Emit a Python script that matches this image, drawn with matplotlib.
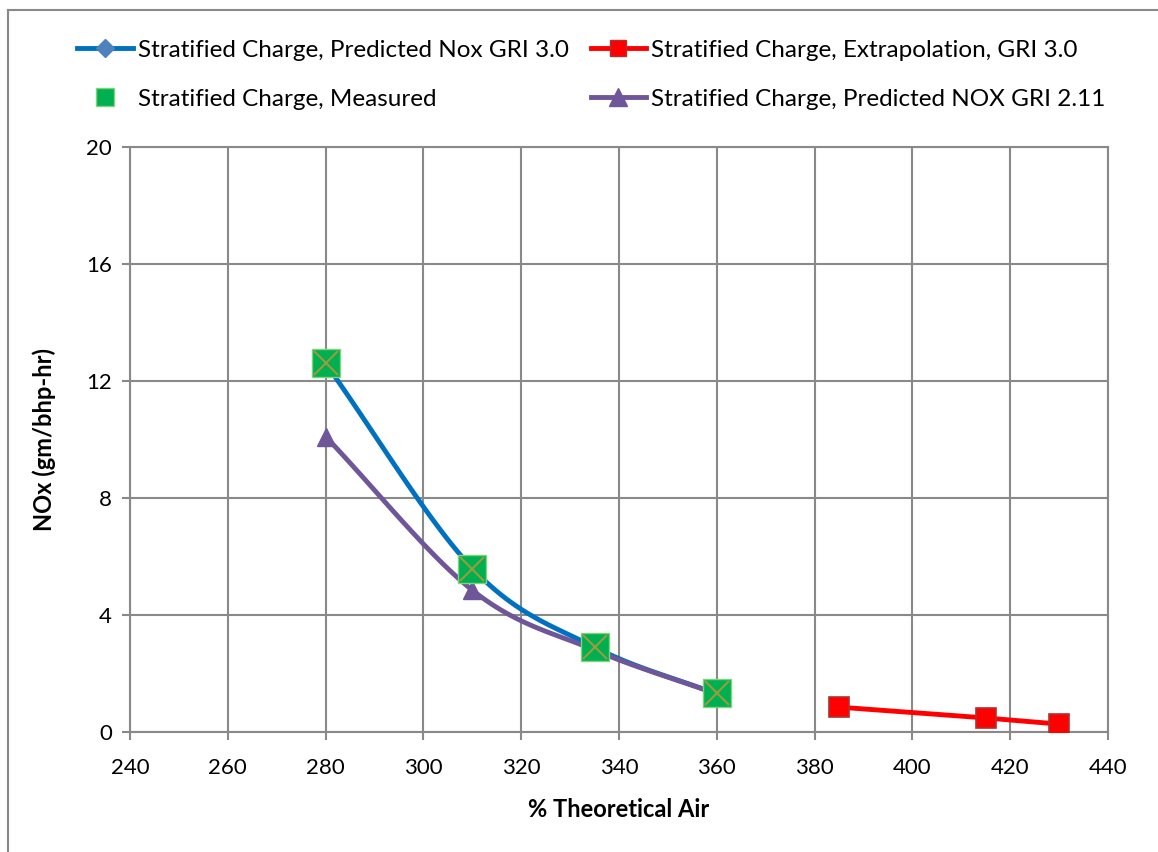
import numpy as np
import matplotlib
matplotlib.use('Agg')
from matplotlib import pyplot as plt
from matplotlib.lines import Line2D

plt.rcParams['font.family'] = ['Lato', 'DejaVu Sans']

# data
air_pred = [280, 310, 335, 360]
nox_gri30 = [12.6, 5.6, 2.9, 1.3]
nox_measured = [12.6, 5.57, 2.9, 1.33]
nox_gri211 = [10.1, 4.85, 2.8, 1.3]
air_extra = [385, 415, 430]
nox_extra = [0.85, 0.48, 0.27]

x_ticks = list(range(240, 441, 20))
y_ticks = [0, 4, 8, 12, 16, 20]


def smooth(x, y, n=40):
	# Catmull-Rom curve through the points, like Excel's smoothed line
	x = np.asarray(x, float)
	y = np.asarray(y, float)
	px = np.concatenate([[2 * x[0] - x[1]], x, [2 * x[-1] - x[-2]]])
	py = np.concatenate([[2 * y[0] - y[1]], y, [2 * y[-1] - y[-2]]])
	xs, ys = [], []
	t = np.linspace(0, 1, n)
	for i in range(1, len(px) - 2):
		for p, out in ((px, xs), (py, ys)):
			p0, p1, p2, p3 = p[i - 1], p[i], p[i + 1], p[i + 2]
			out.extend(0.5 * (2 * p1 + (-p0 + p2) * t + (2 * p0 - 5 * p1 + 4 * p2 - p3) * t ** 2
			                  + (-p0 + 3 * p1 - 3 * p2 + p3) * t ** 3))
	return xs, ys


blue = '#0070C0'
purple = '#6F5698'
green = '#00B050'
red = '#FF0000'
grid_col = '#898989'

fig = plt.figure(figsize=(11.58, 8.52), dpi=100)
ax = fig.add_axes([130 / 1158, 1 - 732 / 852, 978 / 1158, 585 / 852])

sx, sy = smooth(air_pred, nox_gri30)
ax.plot(sx, sy, color=blue, lw=3.5, zorder=3)
ax.plot(air_pred, nox_gri30, ls='none', marker='D', ms=9, color='#4F81BD', zorder=3)

sx, sy = smooth(air_pred, nox_gri211)
ax.plot(sx, sy, color=purple, lw=3.5, zorder=3)
ax.plot(air_pred, nox_gri211, ls='none', marker='^', ms=13, color=purple, zorder=3)

ax.plot(air_pred, nox_measured, ls='none', marker='s', ms=20, mfc=green, mec='#7FD37F', mew=1, zorder=4)
ax.plot(air_pred, nox_measured, ls='none', marker='x', ms=17, mec='#9B9B3F', mew=1.5, zorder=5)

ax.plot(air_extra, nox_extra, color=red, lw=3.5, marker='s', ms=14, mfc=red, mec='#B03030', mew=1.2, zorder=3)

ax.set_xlim(240, 440)
ax.set_ylim(0, 20)
ax.set_xticks(x_ticks)
ax.set_yticks(y_ticks)
ax.grid(True, color=grid_col, lw=1.5)
ax.set_axisbelow(True)
for s in ax.spines.values():
	s.set_color(grid_col)
	s.set_linewidth(1.5)
ax.tick_params(length=6, width=1.5, color=grid_col, labelsize=16)
ax.tick_params(axis='x', pad=13)
ax.tick_params(axis='y', pad=7)
ax.set_xlabel('% Theoretical Air', fontsize=17, fontweight='bold', labelpad=14)
ax.set_ylabel('NOx (gm/bhp-hr)', fontsize=17, fontweight='bold', labelpad=22)

handles = [
	Line2D([], [], color=blue, lw=3.5, marker='D', ms=9, mfc='#4F81BD', mec='#4F81BD'),
	Line2D([], [], ls='none', marker='s', ms=13, mfc=green, mec='#7FD37F'),
	Line2D([], [], color=red, lw=3.5, marker='s', ms=12, mfc=red, mec='#B03030'),
	Line2D([], [], color=purple, lw=3.5, marker='^', ms=13, mfc=purple, mec=purple),
]
labels = [
	'Stratified Charge, Predicted Nox GRI 3.0',
	'Stratified Charge, Measured',
	'Stratified Charge, Extrapolation, GRI 3.0',
	'Stratified Charge, Predicted NOX GRI 2.11',
]
fig.legend(handles, labels, ncol=2, loc='upper left', bbox_to_anchor=(55 / 1158, 1 - 18 / 852),
           frameon=False, fontsize=17.5, handlelength=2.3, handletextpad=0.2, columnspacing=0.9,
           labelspacing=1.15, borderpad=0.4)

# outer chart border (cropped on right and bottom)
fig.add_artist(Line2D([8 / 1158, 1], [1 - 10 / 852, 1 - 10 / 852], color=grid_col, lw=1.5,
                      transform=fig.transFigure))
fig.add_artist(Line2D([8 / 1158, 8 / 1158], [1 - 10 / 852, 0], color=grid_col, lw=1.5,
                      transform=fig.transFigure))

fig.savefig('out.png', dpi=100)
